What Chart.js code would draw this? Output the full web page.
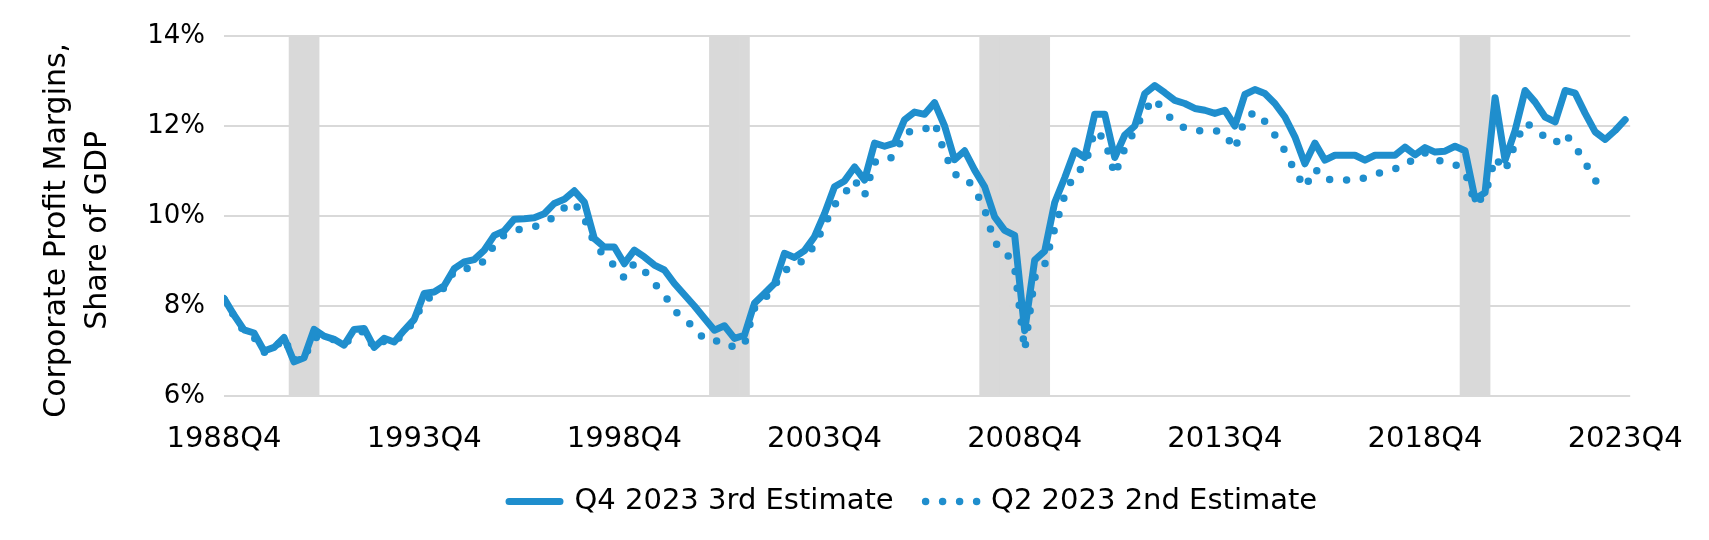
<!DOCTYPE html>
<html>
<head>
<meta charset="utf-8">
<script src="https://cdn.jsdelivr.net/npm/chart.js@4.4.1/dist/chart.umd.min.js"></script>
<style>
html,body{margin:0;padding:0;background:#fff;}
#wrap{width:1709px;height:540px;position:relative;}
</style>
</head>
<body>
<div id="wrap"><canvas id="c" width="1709" height="540"></canvas></div>
<script>
const quarters = [
'1988Q4',
'1989Q1','1989Q2','1989Q3','1989Q4','1990Q1','1990Q2','1990Q3','1990Q4',
'1991Q1','1991Q2','1991Q3','1991Q4','1992Q1','1992Q2','1992Q3','1992Q4',
'1993Q1','1993Q2','1993Q3','1993Q4','1994Q1','1994Q2','1994Q3','1994Q4',
'1995Q1','1995Q2','1995Q3','1995Q4','1996Q1','1996Q2','1996Q3','1996Q4',
'1997Q1','1997Q2','1997Q3','1997Q4','1998Q1','1998Q2','1998Q3','1998Q4',
'1999Q1','1999Q2','1999Q3','1999Q4','2000Q1','2000Q2','2000Q3','2000Q4',
'2001Q1','2001Q2','2001Q3','2001Q4','2002Q1','2002Q2','2002Q3','2002Q4',
'2003Q1','2003Q2','2003Q3','2003Q4','2004Q1','2004Q2','2004Q3','2004Q4',
'2005Q1','2005Q2','2005Q3','2005Q4','2006Q1','2006Q2','2006Q3','2006Q4',
'2007Q1','2007Q2','2007Q3','2007Q4','2008Q1','2008Q2','2008Q3','2008Q4',
'2009Q1','2009Q2','2009Q3','2009Q4','2010Q1','2010Q2','2010Q3','2010Q4',
'2011Q1','2011Q2','2011Q3','2011Q4','2012Q1','2012Q2','2012Q3','2012Q4',
'2013Q1','2013Q2','2013Q3','2013Q4','2014Q1','2014Q2','2014Q3','2014Q4',
'2015Q1','2015Q2','2015Q3','2015Q4','2016Q1','2016Q2','2016Q3','2016Q4',
'2017Q1','2017Q2','2017Q3','2017Q4','2018Q1','2018Q2','2018Q3','2018Q4',
'2019Q1','2019Q2','2019Q3','2019Q4','2020Q1','2020Q2','2020Q3','2020Q4',
'2021Q1','2021Q2','2021Q3','2021Q4','2022Q1','2022Q2','2022Q3','2022Q4',
'2023Q1','2023Q2','2023Q3','2023Q4'
];

// Q4 2023 3rd Estimate (solid), % of GDP
const q4_2023_3rdEstimate = [
8.17,
7.80,7.47,7.40,7.00,7.08,7.30,6.76,6.85,
7.48,7.33,7.26,7.13,7.48,7.50,7.08,7.28,
7.20,7.46,7.70,8.28,8.31,8.45,8.83,8.98,
9.03,9.24,9.57,9.67,9.93,9.94,9.96,10.05,
10.28,10.37,10.56,10.31,9.50,9.31,9.31,8.94,
9.24,9.09,8.91,8.80,8.50,8.25,8.00,7.73,
7.46,7.56,7.28,7.35,8.06,8.28,8.50,9.17,
9.08,9.23,9.54,10.05,10.65,10.78,11.09,10.80,
11.62,11.55,11.62,12.14,12.31,12.26,12.52,12.00,
11.25,11.45,11.02,10.65,9.98,9.68,9.57,7.45,
9.02,9.22,10.30,10.85,11.45,11.30,12.26,12.26,
11.30,11.80,12.00,12.72,12.90,12.74,12.57,12.50,
12.39,12.35,12.28,12.35,12.00,12.70,12.81,12.72,
12.50,12.20,11.76,11.16,11.62,11.24,11.35,11.35,
11.35,11.24,11.35,11.35,11.35,11.53,11.36,11.52,
11.42,11.44,11.55,11.45,10.38,10.52,12.63,11.24,
11.90,12.79,12.53,12.20,12.09,12.79,12.73,12.28,
11.87,11.70,11.90,12.14
];

// Q2 2023 2nd Estimate (dotted), % of GDP, through 2023Q2
const q2_2023_2ndEstimate = [
8.15,
7.78,7.43,7.30,6.97,7.05,7.30,6.80,6.85,
7.30,7.30,7.25,7.15,7.33,7.45,7.06,7.22,
7.20,7.38,7.68,8.10,8.25,8.40,8.78,8.82,
8.86,9.00,9.35,9.58,9.68,9.72,9.76,9.85,
9.98,10.18,10.30,9.95,9.40,9.10,8.90,8.62,
8.95,8.78,8.50,8.25,7.90,7.70,7.52,7.25,
7.22,7.22,7.07,7.15,7.95,8.15,8.45,8.80,
8.85,9.05,9.35,9.80,10.25,10.50,10.80,10.45,
11.20,11.20,11.35,11.85,11.90,11.92,12.08,11.40,
10.92,10.88,10.60,10.15,9.40,9.25,8.85,7.02,
8.63,8.92,9.72,10.46,10.95,11.10,11.90,11.70,
10.91,11.50,11.90,12.35,12.61,12.29,12.10,11.95,
11.89,11.90,11.90,11.83,11.48,12.16,12.31,12.10,
11.80,11.45,11.00,10.63,11.05,10.80,10.82,10.80,
10.79,10.85,10.92,11.00,11.05,11.10,11.31,11.40,
11.25,11.20,11.15,10.98,10.28,10.45,11.30,11.00,
11.60,12.07,11.95,11.75,11.62,11.83,11.55,11.18,
10.80,10.48
];

const recessionQuarters = [
'1990Q3','1990Q4','1991Q1',
'2001Q1','2001Q2','2001Q3','2001Q4',
'2007Q4','2008Q1','2008Q2','2008Q3','2008Q4','2009Q1','2009Q2',
'2019Q4','2020Q1','2020Q2'
];

const xTickLabels = ['1988Q4','1993Q4','1998Q4','2003Q4','2008Q4','2013Q4','2018Q4','2023Q4'];
const yTickValues = [6, 8, 10, 12, 14];
const seriesNames = ['Q4 2023 3rd Estimate', 'Q2 2023 2nd Estimate'];
const yAxisTitle = ['Corporate Profit Margins,   ', 'Share of GDP   '];

const BLUE = '#1f8ecd';
const GREY = '#d9d9d9';
Chart.defaults.font.family = "'DejaVu Sans', sans-serif";
Chart.defaults.color = '#000';

const legendShift = {
  id: 'legendShift',
  afterLayout(chart) {
    if (chart.legend) { chart.legend.left -= 14; chart.legend.right -= 14; }
  }
};

new Chart(document.getElementById('c'), {
  type: 'line',
  plugins: [legendShift],
  data: {
    datasets: [
      {
        label: seriesNames[0],
        data: q4_2023_3rdEstimate.map((v, i) => ({x: i, y: v})),
        borderColor: BLUE,
        backgroundColor: BLUE,
        borderWidth: 7,
        borderCapStyle: 'round',
        borderJoinStyle: 'round',
        pointRadius: 0,
        tension: 0,
        order: 1
      },
      {
        label: seriesNames[1],
        data: q2_2023_2ndEstimate.map((v, i) => ({x: i, y: v})),
        borderColor: BLUE,
        backgroundColor: 'rgba(0,0,0,0)',
        borderWidth: 7.5,
        borderDash: [0, 17],
        borderCapStyle: 'round',
        borderJoinStyle: 'round',
        pointRadius: 0,
        tension: 0,
        order: 2
      },
      {
        type: 'bar',
        label: 'Recession',
        data: recessionQuarters.map(q => ({x: quarters.indexOf(q), y: [6, 14]})),
        backgroundColor: GREY,
        borderWidth: 0,
        barPercentage: 1,
        categoryPercentage: 1,
        order: 3
      }
    ]
  },
  options: {
    responsive: false,
    animation: false,
    devicePixelRatio: 1,
    layout: {padding: {top: 36, right: 77, bottom: 14, left: 0}},
    scales: {
      x: {
        type: 'linear',
        min: 0,
        max: 140.5,
        offset: false,
        grid: {display: false, offset: false, drawTicks: false},
        border: {display: false},
        afterBuildTicks: s => { s.ticks = xTickLabels.map(l => ({value: quarters.indexOf(l)})); },
        ticks: {
          autoSkip: false,
          maxRotation: 0,
          padding: 26,
          font: {size: 29},
          color: '#000',
          callback: v => quarters[v]
        },
        afterFit: s => { s.height = 59; }
      },
      y: {
        min: 6,
        max: 14,
        afterBuildTicks: s => { s.ticks = yTickValues.map(v => ({value: v})); },
        grid: {color: GREY, lineWidth: 2, drawTicks: false},
        border: {display: false},
        ticks: {padding: 19, font: {size: 26}, color: '#000', callback: v => v + '%'},
        title: {
          display: true,
          text: yAxisTitle,
          color: '#000',
          font: {size: 30, lineHeight: 1.35},
          padding: {top: 37, bottom: 0}
        },
        afterFit: s => { s.width = 224; }
      }
    },
    plugins: {
      legend: {
        position: 'bottom',
        fullSize: false,
        labels: {
          boxWidth: 51,
          boxHeight: 0,
          padding: 32,
          color: '#000',
          font: {size: 29},
          filter: item => item.datasetIndex < 2
        }
      },
      tooltip: {enabled: false}
    }
  }
});
</script>
</body>
</html>
